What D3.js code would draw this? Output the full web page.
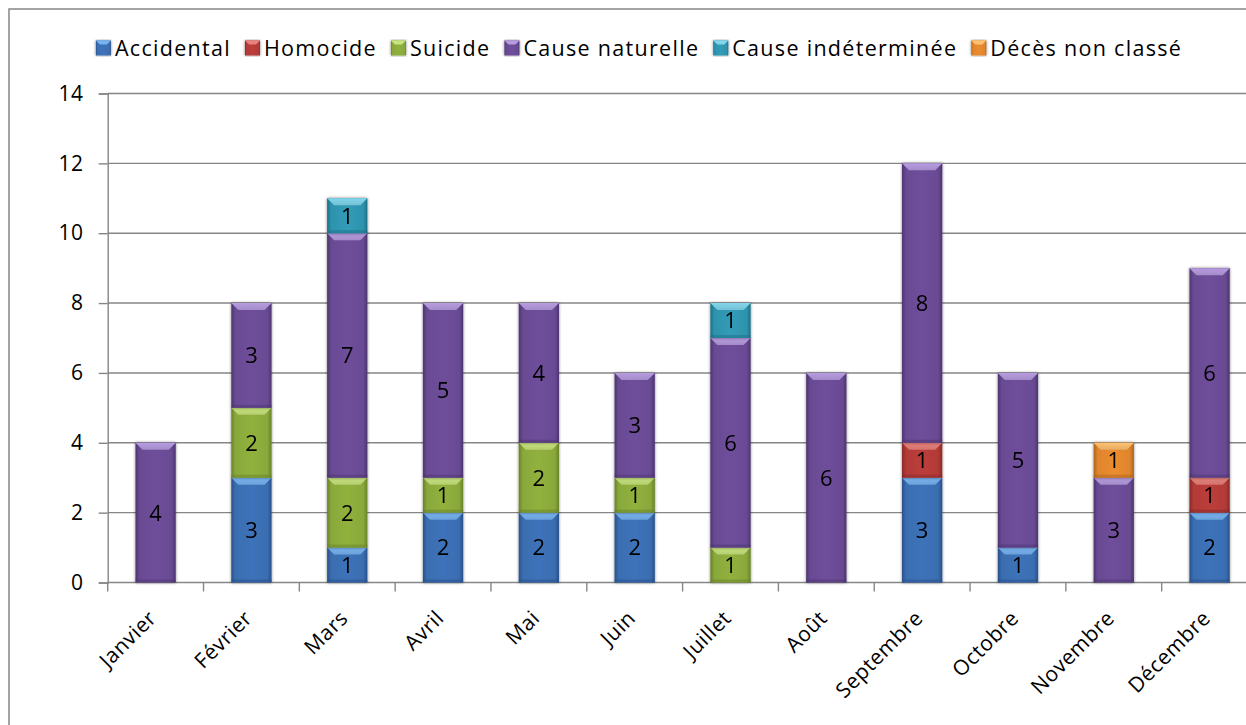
<!DOCTYPE html>
<html>
<head>
<meta charset="utf-8">
<script src="https://cdn.jsdelivr.net/npm/d3@7"></script>
<style>
  html, body { margin: 0; padding: 0; background: #ffffff; }
  svg { display: block; }
  text { font-family: "Open Sans", "Noto Sans", sans-serif; fill: #000; }
</style>
</head>
<body>
<svg id="chart" width="1246" height="725"></svg>
<script>
// Monthly deaths by cause
const months = ["Janvier", "Février", "Mars", "Avril", "Mai", "Juin", "Juillet", "Août", "Septembre", "Octobre", "Novembre", "Décembre"];
const seriesNames = ["Accidental", "Homocide", "Suicide", "Cause naturelle", "Cause indéterminée", "Décès non classé"];
const accidental        = [0, 3, 1, 2, 2, 2, 0, 0, 3, 1, 0, 2];
const homocide          = [0, 0, 0, 0, 0, 0, 0, 0, 1, 0, 0, 1];
const suicide           = [0, 2, 2, 1, 2, 1, 1, 0, 0, 0, 0, 0];
const causeNaturelle    = [4, 3, 7, 5, 4, 3, 6, 6, 8, 5, 3, 6];
const causeIndeterminee = [0, 0, 1, 0, 0, 0, 1, 0, 0, 0, 0, 0];
const nonClasse         = [0, 0, 0, 0, 0, 0, 0, 0, 0, 0, 1, 0];
const yTicks = [0, 2, 4, 6, 8, 10, 12, 14];

const seriesValues = [accidental, homocide, suicide, causeNaturelle, causeIndeterminee, nonClasse];
// body colour, highlight colour and edge colour for each series
const palette = [
  { body: "#3a6db0", hi: "#78b4f2", dark: "#28518a" },
  { body: "#b23a37", hi: "#ea817c", dark: "#882a28" },
  { body: "#89a83b", hi: "#c8e47e", dark: "#688228" },
  { body: "#694a93", hi: "#b79ce0", dark: "#4c3470" },
  { body: "#2e93ad", hi: "#82d6ec", dark: "#1d7086" },
  { body: "#df852d", hi: "#ffc070", dark: "#ad631b" }
];

const table = months.map((m, i) => {
  const row = { month: m };
  seriesNames.forEach((s, k) => row[s] = seriesValues[k][i]);
  return row;
});

const svg = d3.select("#chart");
const W = 1246, H = 725;
const plot = { left: 107.7, right: 1257.5, top: 93.5, bottom: 582.5 };

const defs = svg.append("defs");
palette.forEach((p, k) => {
  const g = defs.append("linearGradient").attr("id", "body" + k)
    .attr("x1", "0").attr("x2", "1").attr("y1", "0").attr("y2", "0");
  g.append("stop").attr("offset", "0").attr("stop-color", p.dark);
  g.append("stop").attr("offset", "0.1").attr("stop-color", p.body);
  g.append("stop").attr("offset", "0.5").attr("stop-color", d3.color(p.body).brighter(0.15));
  g.append("stop").attr("offset", "0.9").attr("stop-color", p.body);
  g.append("stop").attr("offset", "1").attr("stop-color", p.dark);
  const v = defs.append("linearGradient").attr("id", "hi" + k)
    .attr("x1", "0").attr("x2", "0").attr("y1", "0").attr("y2", "1");
  v.append("stop").attr("offset", "0").attr("stop-color", p.hi);
  v.append("stop").attr("offset", "1").attr("stop-color", d3.color(p.hi).darker(0.3));
});
const shadow = defs.append("filter").attr("id", "shadow")
  .attr("x", "-30%").attr("y", "-10%").attr("width", "160%").attr("height", "120%");
shadow.append("feGaussianBlur").attr("in", "SourceAlpha").attr("stdDeviation", 1.8).attr("result", "b");
shadow.append("feComponentTransfer").attr("in", "b").attr("result", "s")
  .append("feFuncA").attr("type", "linear").attr("slope", 0.5);
const merge = shadow.append("feMerge");
merge.append("feMergeNode").attr("in", "s");
merge.append("feMergeNode").attr("in", "SourceGraphic");

// outer frame
svg.append("rect").attr("x", 9).attr("y", 9).attr("width", W + 20).attr("height", H + 20)
  .attr("fill", "none").attr("stroke", "#868686").attr("stroke-width", 1.5);

const x = d3.scaleBand().domain(months).range([plot.left, plot.right])
  .paddingInner(0.58).paddingOuter(0.29);
const y = d3.scaleLinear().domain([0, 14]).range([plot.bottom, plot.top]);

// horizontal gridlines
svg.append("g").selectAll("line").data(yTicks.filter(t => t > 0)).join("line")
  .attr("x1", plot.left).attr("x2", W + 10)
  .attr("y1", d => y(d)).attr("y2", d => y(d))
  .attr("stroke", "#868686").attr("stroke-width", 1.4);

// y axis
const yAxis = svg.append("g").attr("transform", `translate(${plot.left},0)`)
  .call(d3.axisLeft(y).tickValues(yTicks).tickSize(9).tickPadding(15).tickFormat(d3.format("d")));
yAxis.select(".domain").attr("stroke", "#868686").attr("stroke-width", 1.4);
yAxis.selectAll(".tick line").attr("stroke", "#868686").attr("stroke-width", 1.4);
yAxis.selectAll(".tick text").attr("font-size", 21).attr("letter-spacing", 0.6)
  .attr("font-family", "Open Sans").attr("fill", "#000");

// x axis: boundary ticks between categories
const step = x.step();
const bounds = d3.range(months.length + 1).map(i => plot.left + i * step);
svg.append("line").attr("x1", plot.left).attr("x2", W + 10)
  .attr("y1", plot.bottom).attr("y2", plot.bottom)
  .attr("stroke", "#868686").attr("stroke-width", 1.4);
svg.append("g").selectAll("line").data(bounds).join("line")
  .attr("x1", d => d).attr("x2", d => d)
  .attr("y1", plot.bottom).attr("y2", plot.bottom + 9)
  .attr("stroke", "#868686").attr("stroke-width", 1.4);

// rotated month labels
svg.append("g").selectAll("text").data(months).join("text")
  .attr("transform", d => `translate(${x(d) + x.bandwidth() / 2 + 2},${plot.bottom + 37}) rotate(-45)`)
  .attr("text-anchor", "end")
  .attr("font-size", 21)
  .attr("letter-spacing", 0.5)
  .text(d => d);

// stacked bars
const stacked = d3.stack().keys(seriesNames)(table);
const bw = x.bandwidth();
const bev = 7;
stacked.forEach((layer, k) => {
  const g = svg.append("g").attr("filter", "url(#shadow)");
  const segs = layer.map((s, i) => ({ month: months[i], y0: s[0], y1: s[1], v: s[1] - s[0] }))
    .filter(d => d.v > 0);
  const seg = g.selectAll("g").data(segs).join("g");
  seg.append("rect")
    .attr("x", d => x(d.month)).attr("width", bw)
    .attr("y", d => y(d.y1)).attr("height", d => y(d.y0) - y(d.y1))
    .attr("fill", `url(#body${k})`);
  seg.append("path")
    .attr("d", d => {
      const x0 = x(d.month), t = y(d.y1);
      return `M${x0},${t}L${x0 + bw},${t}L${x0 + bw - bev},${t + bev}L${x0 + bev},${t + bev}Z`;
    })
    .attr("fill", `url(#hi${k})`);
  seg.append("rect")
    .attr("x", d => x(d.month)).attr("width", bw)
    .attr("y", d => y(d.y0) - 3).attr("height", 3)
    .attr("fill", palette[k].dark).attr("opacity", 0.5);
});

// value labels
const labels = [];
stacked.forEach(layer => layer.forEach((s, i) => {
  const v = s[1] - s[0];
  if (v > 0) labels.push({ month: months[i], mid: (s[0] + s[1]) / 2, v });
}));
svg.append("g").selectAll("text").data(labels).join("text")
  .attr("x", d => x(d.month) + bw / 2)
  .attr("y", d => y(d.mid))
  .attr("dy", "0.36em")
  .attr("text-anchor", "middle")
  .attr("font-size", 22)
  .text(d => d.v);

// legend
const legend = svg.append("g");
const items = legend.selectAll("g").data(seriesNames).join("g");
items.append("text").attr("font-size", 21.5).attr("letter-spacing", 1.3)
  .attr("y", 48).attr("dy", "0.36em").text(d => d);
const gap = 14, sq = 15;
const widths = [];
items.each(function () { widths.push(this.querySelector("text").getComputedTextLength()); });
const total = d3.sum(widths) + seriesNames.length * (sq + 4) + (seriesNames.length - 1) * gap;
let pos = 639 - total / 2;
items.each(function (d, k) {
  const sel = d3.select(this);
  sel.insert("rect", "text").attr("x", pos).attr("y", 48 - sq / 2).attr("width", sq).attr("height", sq)
    .attr("fill", `url(#body${k})`).attr("filter", "url(#shadow)");
  sel.insert("path", "text")
    .attr("d", `M${pos},${48 - sq / 2}h${sq}l-4,4h${-(sq - 8)}Z`)
    .attr("fill", palette[k].hi);
  sel.select("text").attr("x", pos + sq + 4);
  pos += sq + 4 + widths[k] + gap;
});
</script>
</body>
</html>
